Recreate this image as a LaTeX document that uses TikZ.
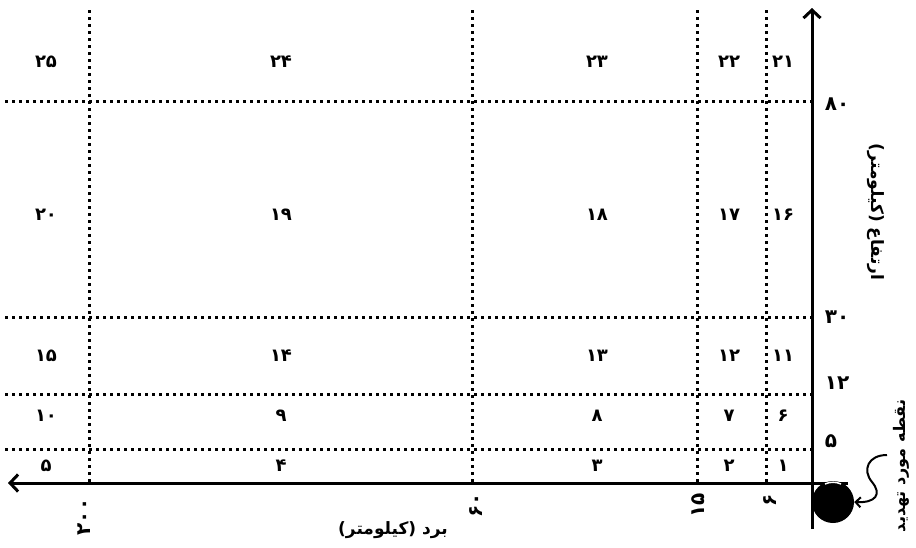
\documentclass[tikz,border=0pt]{standalone}
\usepackage{fontspec}
\usetikzlibrary{arrows.meta}
\TeXXeTstate=1
\newfontfamily\arabicfont[Script=Arabic]{DejaVu Sans}
\begin{document}
\begin{tikzpicture}[x=1pt,y=-1pt,
  grid/.style={line width=3pt,dash pattern=on 3pt off 4pt},
  axis/.style={line width=3pt,-{Straight Barb[length=8pt,width=17pt]}},
  cell/.style={font=\arabicfont\fontsize{18}{20}\selectfont\bfseries,inner sep=0pt},
  tick/.style={font=\arabicfont\fontsize{20}{22}\selectfont\bfseries,inner sep=0pt},
  title/.style={font=\arabicfont\fontsize{17}{19}\selectfont\bfseries,inner sep=0pt}]
\useasboundingbox (0,0) rectangle (916,547);
% coordinates
\coordinate (xend) at (8,483);
\coordinate (xstart) at (848,483);
\coordinate (ytop) at (812,8);
\coordinate (ybot) at (812,529);
% horizontal dotted lines
\foreach \yy in {101,317,394,449}
  \draw[grid] (5,\yy) -- (812,\yy);
% vertical dotted lines
\foreach \xx in {89,472,697,766}
  \draw[grid] (\xx,10) -- (\xx,483);
% axes
\draw[axis] (xstart) -- (xend);
\draw[axis] (ybot) -- (ytop);
% cell numbers
\node[cell] (c25) at (46,62) {۲۵};
\node[cell] (c24) at (281,62) {۲۴};
\node[cell] (c23) at (597,62) {۲۳};
\node[cell] (c22) at (729,62) {۲۲};
\node[cell] (c21) at (783,62) {۲۱};
\node[cell] (c20) at (46,215) {۲۰};
\node[cell] (c19) at (281,215) {۱۹};
\node[cell] (c18) at (597,215) {۱۸};
\node[cell] (c17) at (729,215) {۱۷};
\node[cell] (c16) at (783,215) {۱۶};
\node[cell] (c15) at (46,356) {۱۵};
\node[cell] (c14) at (281,356) {۱۴};
\node[cell] (c13) at (597,356) {۱۳};
\node[cell] (c12) at (729,356) {۱۲};
\node[cell] (c11) at (783,356) {۱۱};
\node[cell] (c10) at (46,416) {۱۰};
\node[cell] (c9) at (281,416) {۹};
\node[cell] (c8) at (597,416) {۸};
\node[cell] (c7) at (729,416) {۷};
\node[cell] (c6) at (783,416) {۶};
\node[cell] (c5) at (46,466) {۵};
\node[cell] (c4) at (281,466) {۴};
\node[cell] (c3) at (597,466) {۳};
\node[cell] (c2) at (729,466) {۲};
\node[cell] (c1) at (783,466) {۱};
% vertical axis ticks
\node[tick] (h80) at (837,104) {۸۰};
\node[tick] (h30) at (837,317) {۳۰};
\node[tick] (h12) at (837,383) {۱۲};
\node[tick] (h5) at (831,441) {۵};
% horizontal axis ticks
\node[tick,rotate=90] (r200) at (84,517) {۲۰۰};
\node[tick,rotate=90] (r60) at (476,505) {۶۰};
\node[tick,rotate=90] (r15) at (698,505) {۱۵};
\node[tick,rotate=90] (r6) at (770,500) {۶};
% titles
\node[title] (tx) at (393,530) {\beginR برد (کیلومتر)\endR};
\node[title,rotate=-90] (ty) at (876,212) {\beginR ارتفاع (کیلومتر)\endR};
\node[title,rotate=90,font=\arabicfont\fontsize{16}{18}\selectfont\bfseries] (tp) at (901,466) {\beginR نقطه مورد تهدید\endR};
% threatened point
\node[circle,fill=black,minimum size=42pt,inner sep=0pt] (ball) at (833,502) {};
\draw[white,line width=1.5pt] (825,484) arc[start angle=115,end angle=65,radius=19pt];
\coordinate (cs) at (887,455);
\draw[line width=2pt,-{Straight Barb[length=5pt,width=10pt]}]
  (cs) .. controls (868,455) and (862,470) .. (872,482)
  .. controls (882,494) and (876,503) .. (ball.east);
\end{tikzpicture}
\end{document}
